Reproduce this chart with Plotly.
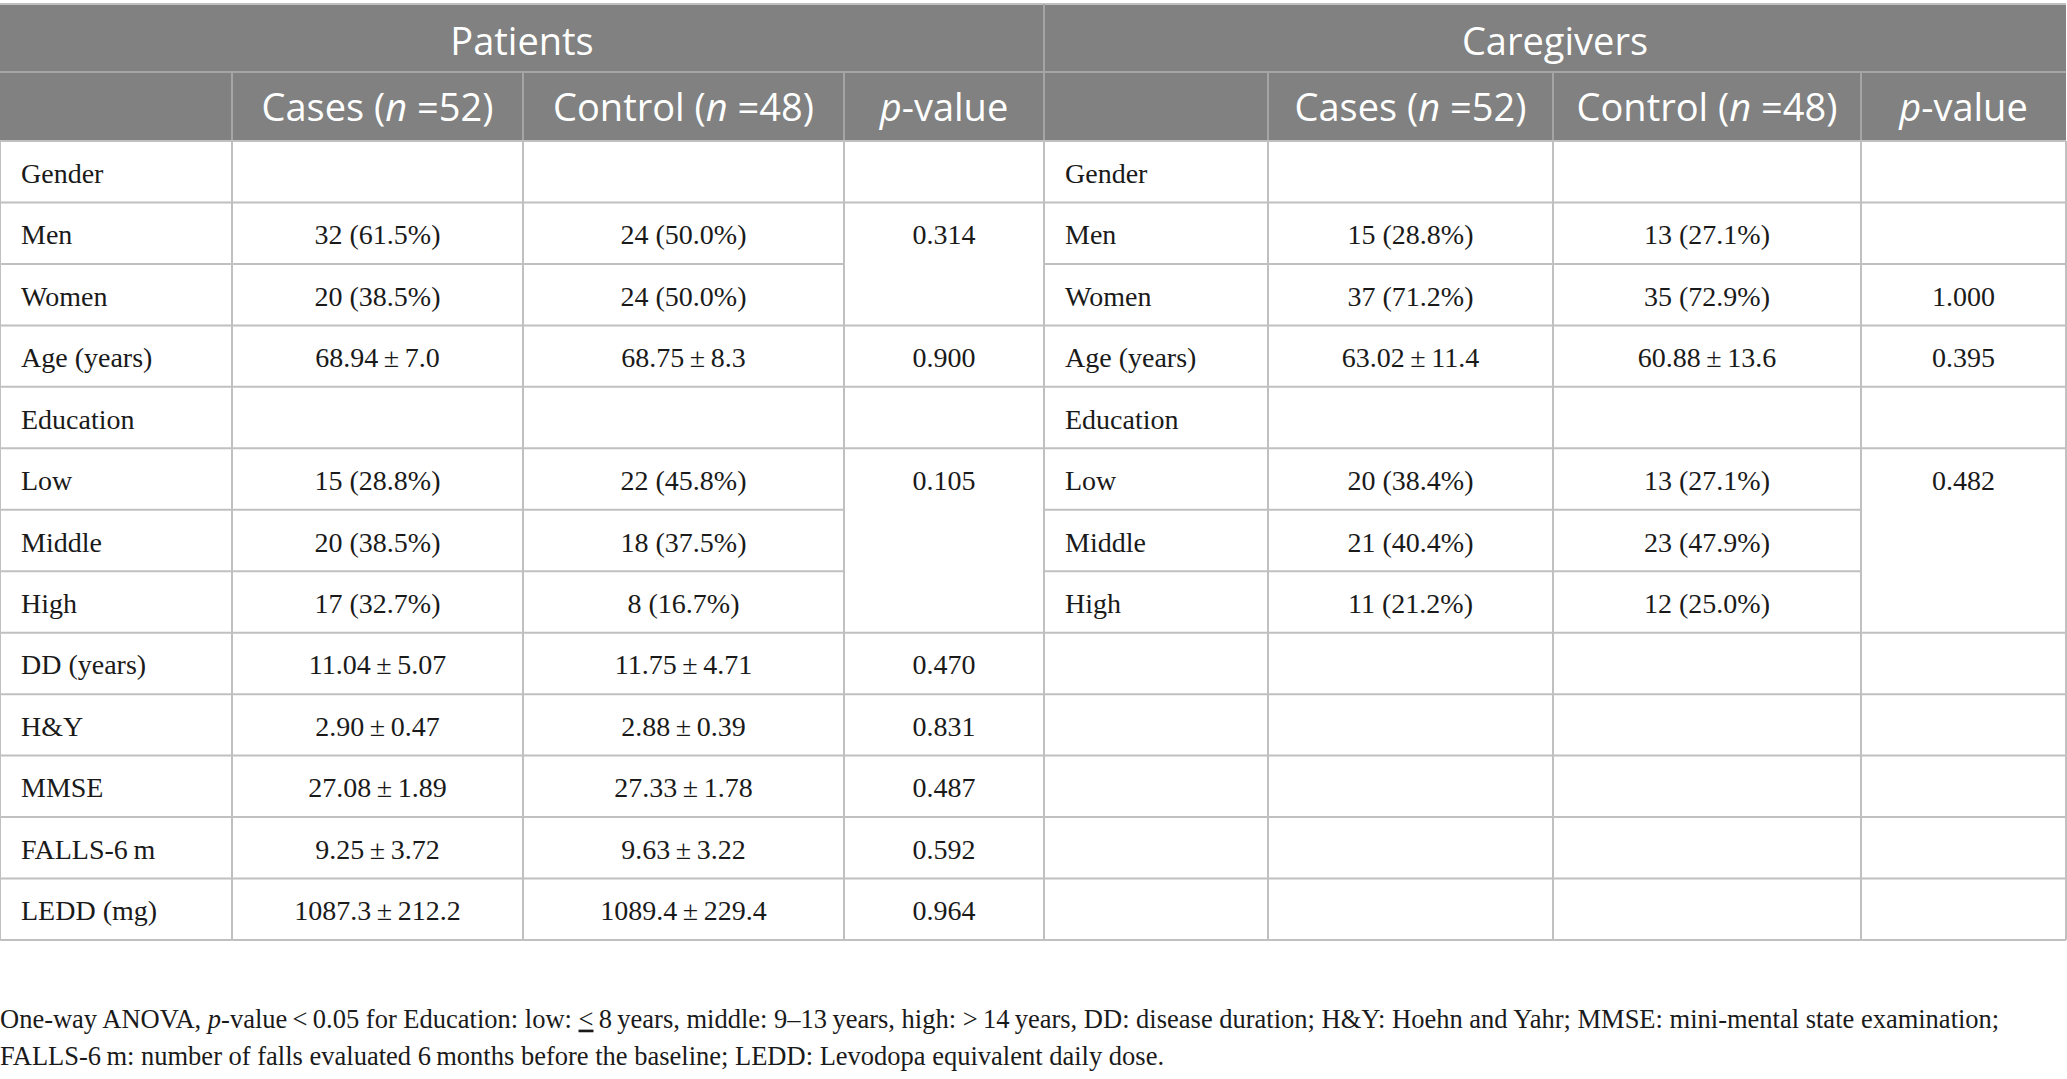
import plotly.graph_objects as go

# ---- table content ----
group_titles = ["Patients", "Caregivers"]
col_headers = ["", "Cases (<i>n</i> =52)", "Control (<i>n</i> =48)", "<i>p</i>-value"]

TS = "\u2009"  # thin space used around the plus-minus sign
PM = TS + "±" + TS

pat_labels = ["Gender", "Men", "Women", "Age (years)", "Education", "Low", "Middle", "High",
              "DD (years)", "H&amp;Y", "MMSE", "FALLS-6" + TS + "m", "LEDD (mg)"]
pat_cases = ["", "32 (61.5%)", "20 (38.5%)", "68.94" + PM + "7.0", "", "15 (28.8%)", "20 (38.5%)",
             "17 (32.7%)", "11.04" + PM + "5.07", "2.90" + PM + "0.47", "27.08" + PM + "1.89",
             "9.25" + PM + "3.72", "1087.3" + PM + "212.2"]
pat_control = ["", "24 (50.0%)", "24 (50.0%)", "68.75" + PM + "8.3", "", "22 (45.8%)", "18 (37.5%)",
               "8 (16.7%)", "11.75" + PM + "4.71", "2.88" + PM + "0.39", "27.33" + PM + "1.78",
               "9.63" + PM + "3.22", "1089.4" + PM + "229.4"]
pat_p = ["", "0.314", "", "0.900", "", "0.105", "", "", "0.470", "0.831", "0.487", "0.592", "0.964"]
pat_p_merged = [(1, 2), (5, 7)]  # p-value cells spanning several rows

care_labels = ["Gender", "Men", "Women", "Age (years)", "Education", "Low", "Middle", "High",
               "", "", "", "", ""]
care_cases = ["", "15 (28.8%)", "37 (71.2%)", "63.02" + PM + "11.4", "", "20 (38.4%)", "21 (40.4%)",
              "11 (21.2%)", "", "", "", "", ""]
care_control = ["", "13 (27.1%)", "35 (72.9%)", "60.88" + PM + "13.6", "", "13 (27.1%)", "23 (47.9%)",
                "12 (25.0%)", "", "", "", "", ""]
care_p = ["", "", "1.000", "0.395", "", "0.482", "", "", "", "", "", "", ""]
care_p_merged = [(5, 7)]

footnote = [
    "One-way ANOVA, <i>p</i>-value" + TS + "&lt;" + TS + "0.05 for Education: low: <u>&lt;</u>" + TS
    + "8" + TS + "years, middle: 9–13" + TS + "years, high: &gt;" + TS + "14" + TS
    + "years, DD: disease duration; H&amp;Y: Hoehn and Yahr; MMSE: mini-mental state examination;",
    "FALLS-6" + TS + "m: number of falls evaluated 6" + TS
    + "months before the baseline; LEDD: Levodopa equivalent daily dose.",
]

# ---- geometry (pixels) ----
W, H = 2067, 1079
col_edges = [0, 232, 523, 844, 1044, 1268, 1553, 1861, 2066]
y_top, y_h1, y_h2, y_bot = 4, 72, 141, 940
pad_left = 21
foot_y = [1021, 1058]

header_bg = "#808180"
header_div = "#a4a5a4"
border = "#c0c0c0"
ink = "#1a1a1a"
serif = "Liberation Serif"
sans = "Open Sans"

n_rows = len(pat_labels)
row_h = (y_bot - y_h2) / n_rows
row_mid = [y_h2 + (i + 0.5) * row_h + 4 for i in range(n_rows)]

fig = go.Figure()
shapes = []

# header background
shapes.append(dict(type="rect", x0=col_edges[0], x1=col_edges[-1], y0=y_top, y1=y_h2,
                   fillcolor=header_bg, line=dict(width=0), layer="below"))
shapes.append(dict(type="line", x0=col_edges[0], x1=col_edges[-1], y0=y_top, y1=y_top,
                   line=dict(color=border, width=2)))
shapes.append(dict(type="line", x0=col_edges[0], x1=col_edges[-1], y0=y_h1, y1=y_h1,
                   line=dict(color=header_div, width=2)))
shapes.append(dict(type="line", x0=col_edges[4], x1=col_edges[4], y0=y_top, y1=y_h1,
                   line=dict(color=header_div, width=2)))
for xe in col_edges[1:-1]:
    shapes.append(dict(type="line", x0=xe, x1=xe, y0=y_h1, y1=y_h2,
                       line=dict(color=header_div, width=2)))

# body vertical lines
for xe in col_edges:
    shapes.append(dict(type="line", x0=xe, x1=xe, y0=y_h2, y1=y_bot,
                       line=dict(color=border, width=2)))

# body horizontal lines, skipping merged p-value cells
for side, merged in ((0, pat_p_merged), (4, care_p_merged)):
    xl, xp, xr = col_edges[side], col_edges[side + 3], col_edges[side + 4]
    for i in range(n_rows + 1):
        yb = y_h2 + i * row_h
        shapes.append(dict(type="line", x0=xl, x1=xp, y0=yb, y1=yb,
                           line=dict(color=border, width=2)))
        inside = any(a < i <= b for a, b in merged)
        if not inside:
            shapes.append(dict(type="line", x0=xp, x1=xr, y0=yb, y1=yb,
                               line=dict(color=border, width=2)))

# header text
fig.add_trace(go.Scatter(
    x=[(col_edges[0] + col_edges[4]) / 2, (col_edges[4] + col_edges[8]) / 2],
    y=[(y_top + y_h1) / 2 + 7] * 2,
    text=group_titles, mode="text", textposition="middle center",
    textfont=dict(family=sans, size=38, color="white"),
    hoverinfo="skip", showlegend=False, cliponaxis=False))
hx, ht = [], []
for side in (0, 4):
    for c in range(1, 4):
        hx.append((col_edges[side + c] + col_edges[side + c + 1]) / 2)
        ht.append(col_headers[c])
fig.add_trace(go.Scatter(
    x=hx, y=[(y_h1 + y_h2) / 2 + 5] * len(hx), text=ht, mode="text",
    textposition="middle center", textfont=dict(family=sans, size=38, color="white"),
    hoverinfo="skip", showlegend=False, cliponaxis=False))

# body text
for side, labels, cols in ((0, pat_labels, [pat_cases, pat_control, pat_p]),
                           (4, care_labels, [care_cases, care_control, care_p])):
    fig.add_trace(go.Scatter(
        x=[col_edges[side] + pad_left] * n_rows, y=row_mid, text=labels, mode="text",
        textposition="middle right", textfont=dict(family=serif, size=28, color=ink),
        hoverinfo="skip", showlegend=False, cliponaxis=False))
    for c, vals in enumerate(cols, start=1):
        xc = (col_edges[side + c] + col_edges[side + c + 1]) / 2
        fig.add_trace(go.Scatter(
            x=[xc] * n_rows, y=row_mid, text=vals, mode="text",
            textposition="middle center", textfont=dict(family=serif, size=28, color=ink),
            hoverinfo="skip", showlegend=False, cliponaxis=False))

# footnote
fig.add_trace(go.Scatter(
    x=[0] * len(footnote), y=foot_y, text=footnote, mode="text",
    textposition="middle right", textfont=dict(family=serif, size=26.5, color=ink),
    hoverinfo="skip", showlegend=False, cliponaxis=False))

fig.update_layout(
    width=W, height=H,
    margin=dict(l=0, r=0, t=0, b=0),
    shapes=shapes,
    xaxis=dict(range=[0, W], visible=False, fixedrange=True),
    yaxis=dict(range=[H, 0], visible=False, fixedrange=True),
    plot_bgcolor="white", paper_bgcolor="white",
)

fig.write_html("out.html", config={"displayModeBar": False},
               post_script="document.body.style.margin='0';")
